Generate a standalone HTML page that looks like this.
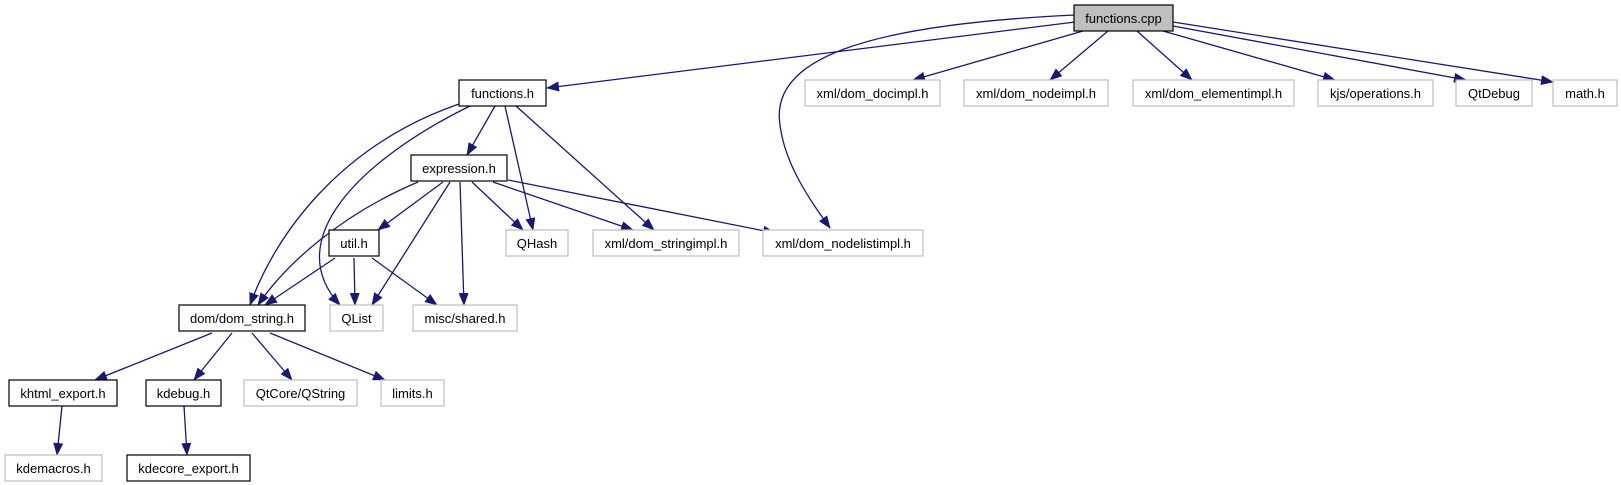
<!DOCTYPE html>
<html><head><meta charset="utf-8"><style>
html,body{margin:0;padding:0;background:#fff;}
svg{display:block;}
text{font-family:"Liberation Sans",Arial,sans-serif;font-size:13px;fill:#000;}
</style></head><body>
<svg width="1621" height="485" viewBox="0 0 1621 485" xmlns="http://www.w3.org/2000/svg">
<defs>
<marker id="a" markerWidth="13" markerHeight="10" refX="12" refY="5" orient="auto" markerUnits="userSpaceOnUse">
<path d="M0,0 L13,5 L0,10 Z" fill="#191970"/>
</marker>
</defs>
<g fill="none" stroke="#191970" stroke-width="1.3" marker-end="url(#a)">
<path d="M1075,22 L547,88"/>
<path d="M1075,15 C860,25 770,60 780,125 C785,165 810,200 830,228"/>
<path d="M1083,31 L913,80"/>
<path d="M1108,31 L1050,80"/>
<path d="M1137,31 L1192,80"/>
<path d="M1163,31 L1335,80"/>
<path d="M1173,26 L1466,80"/>
<path d="M1173,22 L1553,82"/>
<path d="M459,104 C340,145 275,235 250,305"/>
<path d="M470,106 C360,160 280,240 340,305"/>
<path d="M495,106 L467,155"/>
<path d="M505,106 L533,230"/>
<path d="M516,106 L654,230"/>
<path d="M418,182 C340,215 285,265 258,305"/>
<path d="M443,182 L378,230"/>
<path d="M450,182 L372,305"/>
<path d="M460,182 L464,305"/>
<path d="M472,182 L523,230"/>
<path d="M493,182 L633,230"/>
<path d="M508,180 L775,233"/>
<path d="M335,258 L265,305"/>
<path d="M354,258 L355,305"/>
<path d="M372,258 L437,305"/>
<path d="M212,333 L95,380"/>
<path d="M232,333 L194,380"/>
<path d="M252,333 L292,380"/>
<path d="M270,333 L385,380"/>
<path d="M62,406 L57,455"/>
<path d="M184,406 L187,455"/>
</g>
<g stroke-width="1.2">
<rect x="1074" y="5" width="99" height="26" fill="#bfbfbf" stroke="#000"/>
<rect x="459" y="80" width="87" height="26" fill="#fff" stroke="#000"/>
<rect x="805" y="80" width="135" height="26" fill="#fff" stroke="#bfbfbf"/>
<rect x="964" y="80" width="144" height="26" fill="#fff" stroke="#bfbfbf"/>
<rect x="1133" y="80" width="161" height="26" fill="#fff" stroke="#bfbfbf"/>
<rect x="1318" y="80" width="115" height="26" fill="#fff" stroke="#bfbfbf"/>
<rect x="1456" y="80" width="76" height="26" fill="#fff" stroke="#bfbfbf"/>
<rect x="1553" y="80" width="64" height="26" fill="#fff" stroke="#bfbfbf"/>
<rect x="411" y="155" width="96" height="26" fill="#fff" stroke="#000"/>
<rect x="329" y="230" width="50" height="26" fill="#fff" stroke="#000"/>
<rect x="506" y="230" width="62" height="26" fill="#fff" stroke="#bfbfbf"/>
<rect x="593" y="230" width="146" height="26" fill="#fff" stroke="#bfbfbf"/>
<rect x="763" y="230" width="160" height="26" fill="#fff" stroke="#bfbfbf"/>
<rect x="179" y="305" width="126" height="26" fill="#fff" stroke="#000"/>
<rect x="330" y="305" width="53" height="26" fill="#fff" stroke="#bfbfbf"/>
<rect x="413" y="305" width="104" height="26" fill="#fff" stroke="#bfbfbf"/>
<rect x="9" y="380" width="108" height="26" fill="#fff" stroke="#000"/>
<rect x="146" y="380" width="75" height="26" fill="#fff" stroke="#000"/>
<rect x="244" y="380" width="113" height="26" fill="#fff" stroke="#bfbfbf"/>
<rect x="381" y="380" width="63" height="26" fill="#fff" stroke="#bfbfbf"/>
<rect x="5" y="455" width="97" height="26" fill="#fff" stroke="#bfbfbf"/>
<rect x="127" y="455" width="123" height="26" fill="#fff" stroke="#000"/>
</g>
<g text-anchor="middle">
<text x="1123.5" y="23">functions.cpp</text>
<text x="502.5" y="98">functions.h</text>
<text x="872.5" y="98">xml/dom_docimpl.h</text>
<text x="1036" y="98">xml/dom_nodeimpl.h</text>
<text x="1213.5" y="98">xml/dom_elementimpl.h</text>
<text x="1375.5" y="98">kjs/operations.h</text>
<text x="1494" y="98">QtDebug</text>
<text x="1585" y="98">math.h</text>
<text x="459" y="173">expression.h</text>
<text x="354" y="248">util.h</text>
<text x="537" y="248">QHash</text>
<text x="666" y="248">xml/dom_stringimpl.h</text>
<text x="843" y="248">xml/dom_nodelistimpl.h</text>
<text x="242" y="323">dom/dom_string.h</text>
<text x="356.5" y="323">QList</text>
<text x="465" y="323">misc/shared.h</text>
<text x="63" y="398">khtml_export.h</text>
<text x="183.5" y="398">kdebug.h</text>
<text x="300.5" y="398">QtCore/QString</text>
<text x="412.5" y="398">limits.h</text>
<text x="53.5" y="473">kdemacros.h</text>
<text x="188.5" y="473">kdecore_export.h</text>
</g>
</svg>
</body></html>
